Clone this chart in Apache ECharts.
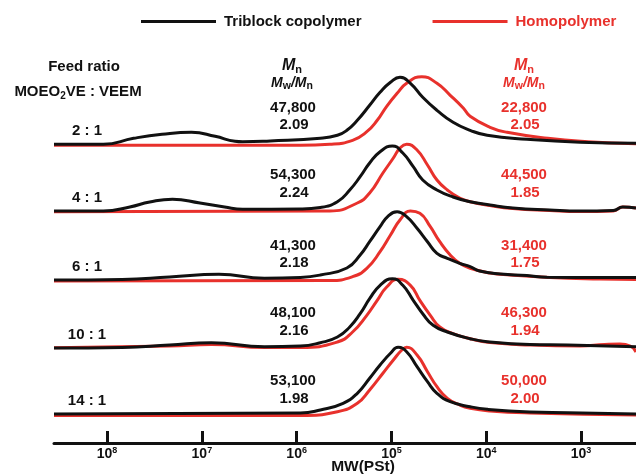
<!DOCTYPE html>
<html><head><meta charset="utf-8">
<script src="https://cdn.jsdelivr.net/npm/echarts@6/dist/echarts.min.js"></script>
<style>html,body{margin:0;padding:0;background:#fff}#c{width:636px;height:475px}</style>
</head><body><div id="c"></div>
<script>
// ---------- data ----------
const ratioLabels = ['2 : 1', '4 : 1', '6 : 1', '10 : 1', '14 : 1'];
const triMn  = ['47,800', '54,300', '41,300', '48,100', '53,100'];
const triPDI = ['2.09', '2.24', '2.18', '2.16', '1.98'];
const homoMn  = ['22,800', '44,500', '31,400', '46,300', '50,000'];
const homoPDI = ['2.05', '1.85', '1.75', '1.94', '2.00'];
const tickExponents = [3, 4, 5, 6, 7, 8];

// GPC traces: [log10 MW, detector intensity]
const tri_2_1 = [[8.56,0],[8.04,0],[7.72,6],[7.42,10],[7.11,12],[6.86,8],[6.65,3],[6.57,2.5],[6.28,3.3],[5.75,6],[5.57,9],[5.47,14],[5.36,24],[5.23,39],[5.12,52],[5.01,62],[4.91,67],[4.80,61],[4.67,47],[4.52,34],[4.35,22],[4.17,14],[3.99,9],[3.57,5],[3.01,2],[2.42,1]];
const homo_2_1 = [[8.56,-1],[5.96,-1],[5.65,0],[5.41,4],[5.26,12.6],[5.15,24],[5.05,38],[4.94,51],[4.84,61],[4.68,67.6],[4.52,61],[4.38,49],[4.24,36],[4.17,28],[3.96,17],[3.78,12],[3.35,6],[2.93,2.6],[2.42,0.5]];
const tri_4_1 = [[8.56,0],[8.04,0],[7.76,4],[7.55,9],[7.31,11.7],[7.02,8],[6.76,4],[6.57,1.7],[5.96,2],[5.75,3.5],[5.57,9.3],[5.44,21],[5.33,34.3],[5.23,48],[5.12,59.3],[4.99,65],[4.88,58],[4.77,44.3],[4.67,31],[4.52,21],[4.35,14],[4.17,9.3],[3.96,6],[3.72,3],[3.33,1],[3.01,0],[2.66,0.5],[2.56,4],[2.42,3]];
const homo_4_1 = [[8.56,-0.7],[5.65,0],[5.36,8],[5.23,18],[5.09,38],[4.98,53],[4.91,63],[4.84,66.7],[4.73,61],[4.62,46],[4.52,31],[4.41,21],[4.28,13],[4.17,9.3],[3.96,5.5],[3.72,2.5],[3.33,0.5],[3.01,-0.5],[2.66,0],[2.56,4],[2.42,3]];
const tri_6_1 = [[8.56,0],[7.84,0.5],[7.34,3],[6.82,5.7],[6.34,1.7],[5.96,2.5],[5.75,5],[5.47,12],[5.33,25],[5.23,38.3],[5.12,53.3],[5.04,63.3],[4.94,68.3],[4.84,63.3],[4.73,51.7],[4.62,38.3],[4.52,26.7],[4.41,21.7],[4.28,16.7],[4.17,13.3],[4.07,9],[3.85,6],[3.57,4.5],[3.36,2.7],[2.80,2.5],[2.42,2.5]];
const homo_6_1 = [[8.56,-1],[5.65,-0.5],[5.41,3.3],[5.26,11.7],[5.12,28.3],[5.01,45],[4.91,60],[4.80,69],[4.70,66.7],[4.59,53.3],[4.49,38.3],[4.38,25],[4.28,16.7],[4.17,11.7],[3.96,7],[3.75,5],[3.33,2.5],[2.80,1],[2.42,0.5]];
const tri_10_1 = [[8.56,0],[7.84,0.5],[7.34,3],[6.90,5.3],[6.34,1.3],[5.96,2],[5.75,5.3],[5.57,11],[5.44,21],[5.33,34.3],[5.23,49.3],[5.12,62.7],[4.99,69.3],[4.88,62.7],[4.77,47.7],[4.67,34.3],[4.56,22.7],[4.41,16],[4.17,9.3],[3.99,6.3],[3.54,3.5],[3.14,3],[2.42,1.3]];
const homo_10_1 = [[8.56,0.3],[7.34,2],[6.90,3.5],[6.34,0.5],[5.96,0.5],[5.57,6],[5.41,16],[5.26,32.7],[5.15,47.7],[5.05,61],[4.93,68.7],[4.80,62.7],[4.70,47.7],[4.59,32.7],[4.49,21],[4.35,14.3],[4.17,9.3],[3.96,5.5],[3.54,3],[3.01,2],[2.75,3.5],[2.59,4],[2.48,2],[2.42,-4]];
const tri_14_1 = [[8.56,0],[5.96,1],[5.75,4],[5.51,10.7],[5.36,20.7],[5.23,35.7],[5.12,49],[5.01,60.7],[4.93,66.7],[4.84,62.3],[4.73,47.3],[4.62,32.3],[4.52,20.7],[4.38,12.3],[4.17,7.3],[3.99,4.7],[3.54,2],[3.14,1.3],[2.42,0]];
const homo_14_1 = [[8.56,-1.5],[5.96,-1.5],[5.57,2.3],[5.36,10.7],[5.23,24],[5.09,40.7],[4.98,54],[4.89,64],[4.84,66.7],[4.73,59],[4.62,42.3],[4.52,27.3],[4.41,15.7],[4.28,9],[4.17,5.7],[3.96,3],[3.54,1],[2.42,-1]];

const triTraces  = [tri_2_1, tri_4_1, tri_6_1, tri_10_1, tri_14_1];
const homoTraces = [homo_2_1, homo_4_1, homo_6_1, homo_10_1, homo_14_1];

// ---------- layout / style ----------
const BLACK = '#111111', RED = '#e8312c';
const FONT = '"Liberation Sans", Arial, sans-serif';
const baselines = [144.3, 211, 280, 348, 414];
const mnY  = [108, 175, 246, 313, 381];
const pdiY = [125, 193, 263, 331, 399];
const box = 70;
const xMin = 2.42, xMax = 8.56;
const gridLeft = 54;

const grids = [], xAxes = [], yAxes = [], series = [];
baselines.forEach((b, i) => {
  grids.push({left: gridLeft, right: 0, top: b - box, height: box});
  xAxes.push({type: 'value', gridIndex: i, min: xMin, max: xMax, inverse: true, show: false});
  yAxes.push({type: 'value', gridIndex: i, min: 0, max: box, show: false});
  const common = {type: 'line', xAxisIndex: i, yAxisIndex: i, showSymbol: false, symbol: 'none',
    smooth: 0.5, clip: false, silent: true, animation: false};
  series.push(Object.assign({}, common, {name: 'Homopolymer', data: homoTraces[i], color: RED,
    lineStyle: {color: RED, width: 3}}));
  series.push(Object.assign({}, common, {name: 'Triblock copolymer', data: triTraces[i], color: BLACK,
    lineStyle: {color: BLACK, width: 3}}));
});
// visible MW axis
grids.push({left: gridLeft, right: 0, top: 423, height: 20});
xAxes.push({
  type: 'value', gridIndex: 5, min: xMin, max: xMax, inverse: true, position: 'bottom',
  axisLine: {onZero: false, lineStyle: {color: BLACK, width: 3}},
  axisTick: {customValues: tickExponents, inside: true, length: 12, lineStyle: {color: BLACK, width: 3}},
  axisLabel: {customValues: tickExponents, margin: 3,
    formatter: v => '{b|10}{s|' + v + '}',
    rich: {
      b: {fontSize: 14, fontWeight: 'bold', fontFamily: FONT, color: BLACK, lineHeight: 17},
      s: {fontSize: 9, fontWeight: 'bold', fontFamily: FONT, color: BLACK, verticalAlign: 'top', lineHeight: 11}
    }},
  splitLine: {show: false}
});
yAxes.push({type: 'value', gridIndex: 5, min: 0, max: 1, show: false});

// text annotations
const g = [];
function txt(text, x, y, size, color, extra) {
  g.push({type: 'text', silent: true, style: Object.assign({
    text: text, x: x, y: y, align: 'center', verticalAlign: 'middle',
    fontSize: size, fontWeight: 'bold', fontFamily: FONT, fill: color}, extra || {})});
}
function richStyles(color, big, small) {
  return {
    i: {fontSize: big, fontWeight: 'bold', fontStyle: 'italic', fontFamily: FONT, fill: color, lineHeight: big + 3},
    a: {fontSize: big, fontWeight: 'bold', fontFamily: FONT, fill: color, lineHeight: big + 3},
    s: {fontSize: small, fontWeight: 'bold', fontFamily: FONT, fill: color, verticalAlign: 'bottom', lineHeight: small + 1}
  };
}
txt('Feed ratio', 84, 67, 15, BLACK);
txt('{a|MOEO}{s|2}{a|VE : VEEM}', 78, 92, 15, BLACK, {rich: richStyles(BLACK, 15, 10)});
txt('{i|M}{s|n}', 292, 66, 16, BLACK, {rich: richStyles(BLACK, 16, 11)});
txt('{i|M}{s|w}{i|/M}{s|n}', 292, 83, 14, BLACK, {rich: richStyles(BLACK, 14, 10.5)});
txt('{i|M}{s|n}', 524, 66, 16, RED, {rich: richStyles(RED, 16, 11)});
txt('{i|M}{s|w}{i|/M}{s|n}', 524, 83, 14, RED, {rich: richStyles(RED, 14, 10.5)});
baselines.forEach((b, i) => {
  txt(ratioLabels[i], 87, b - 13, 15, BLACK);
  txt(triMn[i], 293, mnY[i], 15, BLACK);
  txt(triPDI[i], 294, pdiY[i], 15, BLACK);
  txt(homoMn[i], 524, mnY[i], 15, RED);
  txt(homoPDI[i], 525, pdiY[i], 15, RED);
});
txt('MW(PSt)', 363, 467, 15.5, BLACK);

const chart = echarts.init(document.getElementById('c'), null, {renderer: 'canvas'});
chart.setOption({
  backgroundColor: '#ffffff',
  animation: false,
  legend: {
    left: 136, top: 9, icon: 'rect', itemWidth: 75, itemHeight: 3, itemGap: 71,
    selectedMode: false,
    textStyle: {fontSize: 15, fontWeight: 'bold', fontFamily: FONT, color: BLACK, padding: [0, 0, 0, 3]},
    data: [{name: 'Triblock copolymer', itemStyle: {color: BLACK}},
           {name: 'Homopolymer', itemStyle: {color: RED}, textStyle: {color: RED}}]
  },
  grid: grids, xAxis: xAxes, yAxis: yAxes, series: series, graphic: g
});
</script></body></html>
